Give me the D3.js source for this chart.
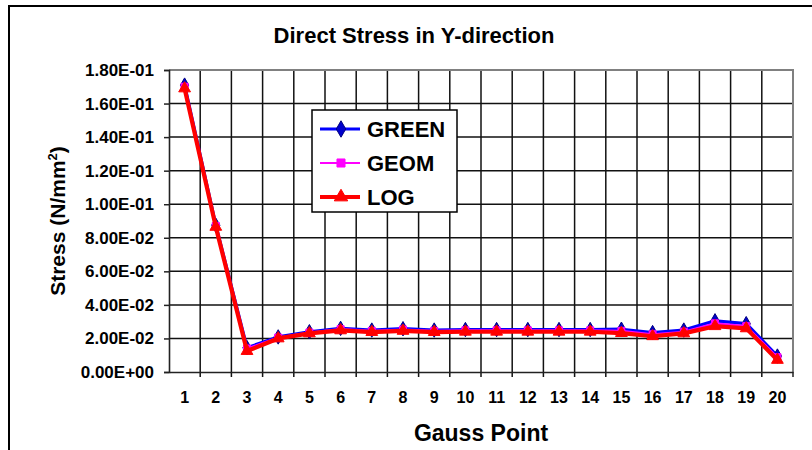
<!DOCTYPE html>
<html>
<head>
<meta charset="utf-8">
<script src="https://cdn.jsdelivr.net/npm/d3@7"></script>
<style>
  body { margin: 0; background: #fff; }
  text { font-family: "Liberation Sans", Arial, sans-serif; font-weight: bold; }
</style>
</head>
<body>
<svg id="chart"></svg>
<script>
var points = d3.range(1, 21).map(String);
var green = [0.171, 0.0875, 0.0145, 0.0209, 0.0240, 0.0260, 0.0250, 0.0258, 0.0250, 0.0253,
             0.0253, 0.0253, 0.0253, 0.0253, 0.0255, 0.0235, 0.0250, 0.0305, 0.0288, 0.0095];
var geom  = [0.170, 0.0870, 0.0140, 0.0205, 0.0235, 0.0255, 0.0245, 0.0253, 0.0245, 0.0248,
             0.0248, 0.0248, 0.0248, 0.0248, 0.0245, 0.0225, 0.0240, 0.0290, 0.0273, 0.0088];
var logv  = [0.169, 0.0865, 0.0125, 0.0200, 0.0230, 0.0248, 0.0238, 0.0245, 0.0238, 0.0240,
             0.0240, 0.0240, 0.0240, 0.0240, 0.0232, 0.0213, 0.0230, 0.0273, 0.0260, 0.0072];
var yTicks = d3.range(0, 10).map(function(i) { return i * 0.02; });

var width = 812, height = 450;
var plot = { left: 169, right: 793, top: 70, bottom: 372 };

var svg = d3.select("#chart").attr("width", width).attr("height", height);

// outer chart frame (runs off right/bottom)
svg.append("path")
   .attr("d", "M9,451 V6 H813")
   .attr("fill", "none").attr("stroke", "#000").attr("stroke-width", 2);

var x = d3.scaleBand().domain(points).range([plot.left, plot.right]).padding(0);
var y = d3.scaleLinear().domain([0, 0.18]).range([plot.bottom, plot.top]);

function sci(v) {
    if (v === 0) return "0.00E+00";
    var e = Math.floor(Math.log10(v) + 1e-9);
    var m = v / Math.pow(10, e);
    var s = e < 0 ? "-" : "+";
    return m.toFixed(2) + "E" + s + String(Math.abs(e)).padStart(2, "0");
}

// horizontal gridlines
svg.append("g").selectAll("line")
   .data(yTicks.slice(1, -1))
   .enter().append("line")
   .attr("x1", plot.left).attr("x2", plot.right)
   .attr("y1", function(d) { return y(d); }).attr("y2", function(d) { return y(d); })
   .attr("stroke", "#111").attr("stroke-width", 1.5);

// vertical gridlines at category boundaries
var bounds = points.map(function(p) { return x(p); }).slice(1);
svg.append("g").selectAll("line")
   .data(bounds)
   .enter().append("line")
   .attr("x1", function(d) { return d; }).attr("x2", function(d) { return d; })
   .attr("y1", plot.top).attr("y2", plot.bottom + 5)
   .attr("stroke", "#111").attr("stroke-width", 1.5);

// plot border top/right in gray
svg.append("path")
   .attr("d", "M" + plot.left + "," + plot.top + " H" + plot.right + " V" + plot.bottom)
   .attr("fill", "none").attr("stroke", "#808080").attr("stroke-width", 2);

// y axis
var yAxis = svg.append("g")
   .attr("transform", "translate(" + plot.left + ",0)")
   .call(d3.axisLeft(y).tickValues(yTicks).tickSize(5).tickPadding(10).tickFormat(sci));
yAxis.select(".domain").attr("stroke", "#222").attr("stroke-width", 1.6);
yAxis.selectAll(".tick line").attr("stroke", "#222").attr("stroke-width", 1.5);
yAxis.selectAll("text").attr("font-size", 17).attr("fill", "#000")
     .style("font-family", "'Liberation Sans', Arial, sans-serif").style("font-weight", "bold");

// x axis
var xAxis = svg.append("g")
   .attr("transform", "translate(0," + plot.bottom + ")")
   .call(d3.axisBottom(x).tickSize(0).tickPadding(20));
xAxis.select(".domain").attr("stroke", "#222").attr("stroke-width", 1.6);
xAxis.selectAll("text").attr("font-size", 16).attr("fill", "#000")
     .style("font-family", "'Liberation Sans', Arial, sans-serif").style("font-weight", "bold");
svg.append("line")
   .attr("x1", plot.right).attr("x2", plot.right)
   .attr("y1", plot.bottom).attr("y2", plot.bottom + 5)
   .attr("stroke", "#222").attr("stroke-width", 1.5);

// series
var cx = function(d, i) { return x(points[i]) + x.bandwidth() / 2; };
var line = d3.line().x(cx).y(function(d) { return y(d); });

var series = [
    { name: "GREEN", values: green, color: "#0000FF", width: 3.2, symbol: d3.symbolDiamond, size: 60, fill: "#0000CC", stroke: "#000080" },
    { name: "GEOM",  values: geom,  color: "#FF00FF", width: 2.2, symbol: d3.symbolSquare,  size: 50, fill: "#FF00FF", stroke: "#FF00FF" },
    { name: "LOG",   values: logv,  color: "#FF0000", width: 4.2, symbol: d3.symbolTriangle, size: 60, fill: "#FF0000", stroke: "#FF0000" }
];

series.forEach(function(s) {
    var g = svg.append("g");
    g.append("path").datum(s.values)
     .attr("d", line).attr("fill", "none")
     .attr("stroke", s.color).attr("stroke-width", s.width).attr("stroke-linejoin", "round");
    g.selectAll("path.m").data(s.values).enter().append("path")
     .attr("class", "m")
     .attr("d", d3.symbol().type(s.symbol).size(s.size))
     .attr("transform", function(d, i) { return "translate(" + cx(d, i) + "," + y(d) + ")"; })
     .attr("fill", s.fill).attr("stroke", s.stroke).attr("stroke-width", 1);
});

// legend
var lg = svg.append("g");
lg.append("rect").attr("x", 312).attr("y", 110).attr("width", 145).attr("height", 102)
  .attr("fill", "#fff").attr("stroke", "#000").attr("stroke-width", 1.5);
series.forEach(function(s, i) {
    var ly = 129 + i * 34;
    lg.append("line").attr("x1", 320).attr("x2", 360).attr("y1", ly).attr("y2", ly)
      .attr("stroke", s.color).attr("stroke-width", s.width);
    lg.append("path").attr("d", d3.symbol().type(s.symbol).size(s.size * 1.3))
      .attr("transform", "translate(341," + ly + ")")
      .attr("fill", s.fill).attr("stroke", s.stroke);
    lg.append("text").attr("x", 367).attr("y", ly + 8).attr("font-size", 22).text(s.name);
});

// titles
svg.append("text").attr("x", 414).attr("y", 43).attr("text-anchor", "middle")
   .attr("font-size", 22).text("Direct Stress in Y-direction");
svg.append("text").attr("x", 481).attr("y", 441).attr("text-anchor", "middle")
   .attr("font-size", 23).text("Gauss Point");
var yt = svg.append("text").attr("transform", "translate(65,221) rotate(-90)")
   .attr("text-anchor", "middle").attr("font-size", 21);
yt.append("tspan").text("Stress (N/mm");
yt.append("tspan").attr("font-size", 13).attr("dy", -8).text("2");
yt.append("tspan").attr("dy", 8).text(")");
</script>
</body>
</html>
